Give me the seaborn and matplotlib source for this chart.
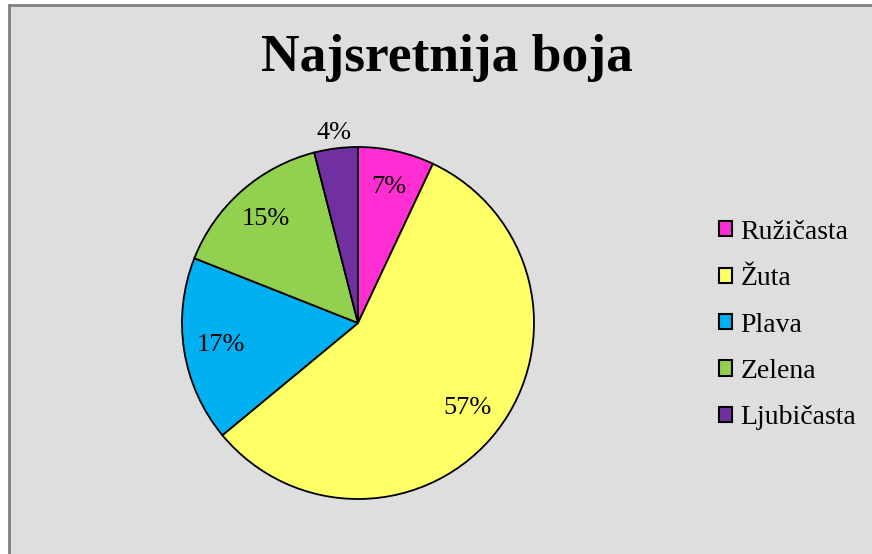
import matplotlib
matplotlib.use("Agg")
import matplotlib.pyplot as plt
from matplotlib.patches import Rectangle
import seaborn as sns

# data
boje = ['Ružičasta', 'Žuta', 'Plava', 'Zelena', 'Ljubičasta']
postotci = [7, 57, 17, 15, 4]
hex_boje = ['#FF2DD2', '#FFFF66', '#00B0F0', '#92D050', '#7030A0']
naslov = 'Najsretnija boja'

sns.set_style("white")
plt.rcParams['font.family'] = ['Liberation Serif', 'DejaVu Serif']
plt.rcParams['text.color'] = 'black'

W, H = 872, 554
fig = plt.figure(figsize=(W / 100, H / 100), dpi=100, facecolor='white')

# grey chart area with border (left/top visible)
fig.patches.append(Rectangle((8.5 / W, -0.1), 1.2, 1 - 4.5 / H + 0.1,
                             transform=fig.transFigure, facecolor='#DEDEDE',
                             edgecolor='#808080', linewidth=2, zorder=-10))

# pie axes: center (358, 323), radius 176 px
r = 176
cx, cy = 358, 323
ax = fig.add_axes([(cx - r) / W, (H - cy - r) / H, 2 * r / W, 2 * r / H])
ax.set_facecolor('none')
ax.set_zorder(5)

paleta = sns.color_palette(hex_boje)
wedges, texts, autotexts = ax.pie(
    postotci, colors=paleta, startangle=90, counterclock=False,
    autopct='%1.0f%%', pctdistance=0.79, radius=1,
    wedgeprops=dict(edgecolor='black', linewidth=1.3),
    textprops=dict(fontsize=19, color='black'))

# smallest slice label sits outside
x, y = autotexts[4].get_position()
autotexts[4].set_position((x * 1.09 / 0.79, y * 1.09 / 0.79))

ax.set_xlim(-1, 1)
ax.set_ylim(-1, 1)
ax.set_aspect('equal')
ax.axis('off')

fig.text(447 / W, 1 - 58 / H, naslov, ha='center', va='center',
         fontsize=38.5, fontweight='bold', color='black')

leg = fig.legend(wedges, boje, loc='center left',
                 bbox_to_anchor=(719 / W, 1 - 325 / H), frameon=False,
                 fontsize=20, handlelength=0.47, handleheight=0.47,
                 handletextpad=0.3, labelspacing=0.77, borderpad=0,
                 borderaxespad=0)
for h in leg.legend_handles:
    h.set_linewidth(1.5)
for t in leg.get_texts():
    t.set_color('black')

fig.savefig('out.png', dpi=100, facecolor='white')
